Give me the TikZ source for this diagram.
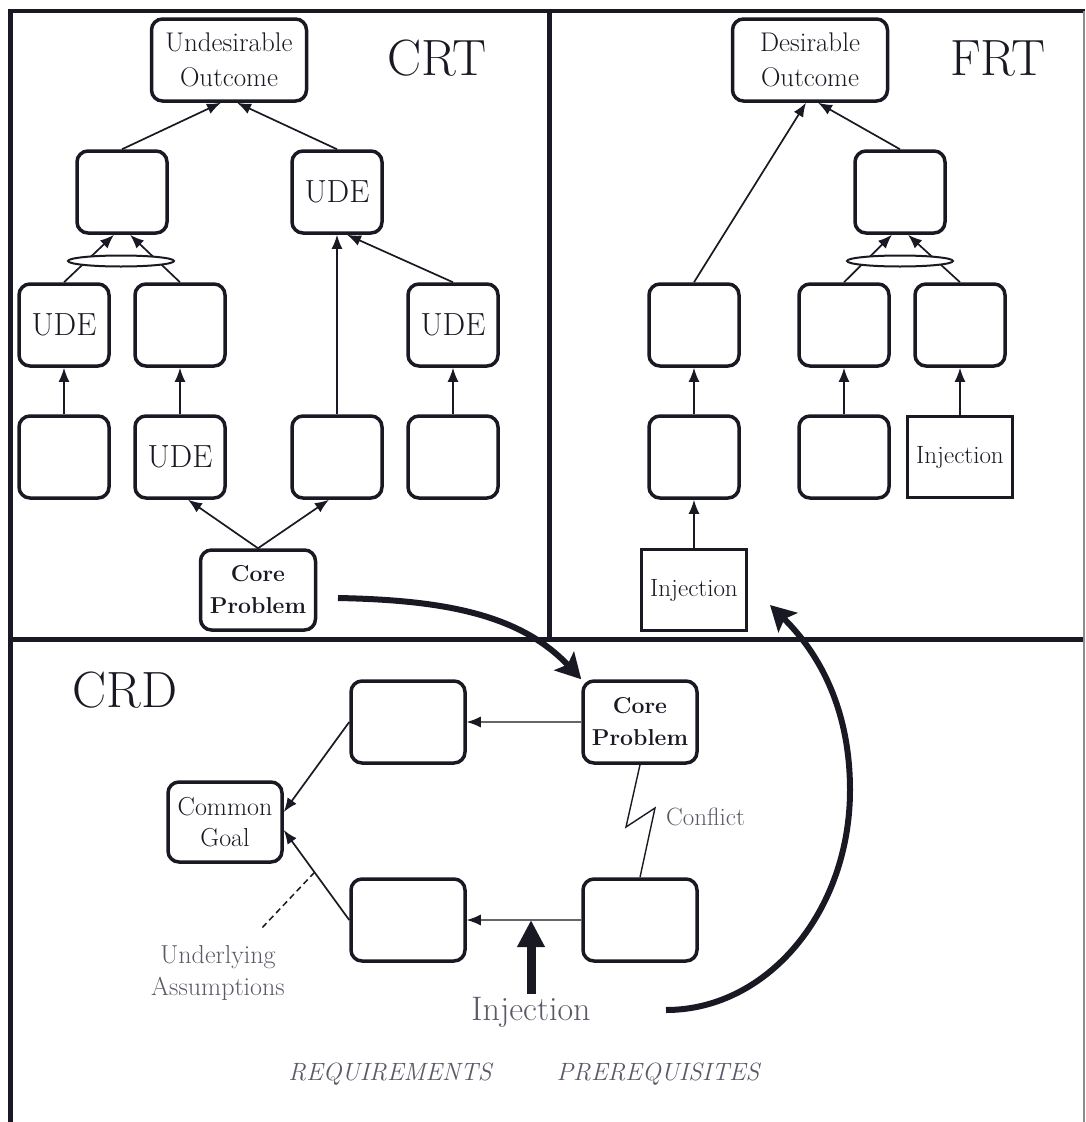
\documentclass[tikz,border=0pt]{standalone}
\usepackage{fontspec}
\usetikzlibrary{arrows.meta,shapes.geometric,calc}
\definecolor{ink}{RGB}{25,25,35}
\definecolor{lbl}{RGB}{90,90,104}
\newcommand\myfs[2]{\fontsize{#1}{#2}\selectfont}
\begin{document}
\begin{tikzpicture}[x=1pt,y=-1pt,
  box/.style={draw=ink, line width=3.5pt, rounded corners=11pt, minimum width=90pt, minimum height=82pt, inner sep=0pt, align=center, text=ink},
  sqbox/.style={draw=ink, line width=3.5pt, minimum width=105pt, minimum height=81pt, inner sep=0pt, align=center, text=ink, font=\myfs{25}{30}},
  ude/.style={font=\myfs{32}{36}},
  title/.style={font=\myfs{51}{55}, text=ink, inner sep=0pt},
  ell/.style={ellipse, draw=ink, line width=2pt, fill=white, minimum width=106pt, minimum height=11pt, inner sep=0pt},
  arr/.style={draw=ink, line width=1.7pt, -{Latex[length=14pt,width=11pt]}},
  arrg/.style={draw=black!60, line width=1.2pt, -{Latex[length=14pt,width=11pt,color=ink]}},
  bigarr/.style={draw=ink, line width=6pt, -{Stealth[length=25pt,width=27pt,inset=5pt]}},
  frame/.style={draw=ink, line width=4.5pt},
  note/.style={text=lbl, inner sep=0pt, align=center}
]
\useasboundingbox (0,0) rectangle (1085,1122);
% frame
\draw[frame] (10.5,1122) -- (10.5,11) -- (1085,11);
\draw[frame] (549.5,11) -- (549.5,639.5);
\draw[frame] (10.5,639.5) -- (1085,639.5);
\draw[draw=black!45, line width=1.2pt] (1084,11) -- (1084,1122);

% ---------------- CRT ----------------
\node[box, minimum width=155pt, font=\myfs{27}{35}] (uo) at (229,60) {Undesirable\\Outcome};
\node[title] (crt) at (437,58) {CRT};
\node[box] (c2a) at (122,192) {};
\node[box, ude] (c2b) at (337,192) {UDE};
\node[box, ude] (c3a) at (64,325) {UDE};
\node[box] (c3b) at (180,325) {};
\node[box, ude] (c3d) at (453,325) {UDE};
\node[box] (c4a) at (64,457) {};
\node[box, ude] (c4b) at (180,457) {UDE};
\node[box] (c4c) at (337,457) {};
\node[box] (c4d) at (453,457) {};
\node[box, minimum width=115pt, minimum height=80pt, font=\bfseries\myfs{23}{32}] (core1) at (258,590) {Core\\Problem};

\draw[arr] (c2a.north) -- ($(uo.south)+(-8,0)$);
\draw[arr] (c2b.north) -- ($(uo.south)+(8,0)$);
\draw[arr] (c3a.north) -- ($(c2a.south)+(-8,0)$);
\draw[arr] (c3b.north) -- ($(c2a.south)+(8,0)$);
\node[ell] (e1) at (121,261) {};
\draw[arr] (c4c.north) -- (c2b.south);
\draw[arr] (c3d.north) -- ($(c2b.south)+(10,0)$);
\draw[arr] (c4a.north) -- (c3a.south);
\draw[arr] (c4b.north) -- (c3b.south);
\draw[arr] (c4d.north) -- (c3d.south);
\draw[arr] (core1.north) -- ($(c4b.south)+(8,0)$);
\draw[arr] (core1.north) -- ($(c4c.south)+(-8,0)$);

% ---------------- FRT ----------------
\node[box, minimum width=155pt, font=\myfs{27}{35}] (do) at (810,60) {Desirable\\Outcome};
\node[title] (frt) at (998,58) {FRT};
\node[box] (f2) at (900,192) {};
\node[box] (f3a) at (694,325) {};
\node[box] (f3b) at (844,325) {};
\node[box] (f3c) at (960,325) {};
\node[box] (f4a) at (694,457) {};
\node[box] (f4b) at (844,457) {};
\node[sqbox] (f4c) at (960,457) {Injection};
\node[sqbox] (finj) at (694,590) {Injection};

\draw[arr] (f3a.north) -- ($(do.south)+(-4,0)$);
\draw[arr] (f2.north) -- ($(do.south)+(8,0)$);
\draw[arr] (f3b.north) -- ($(f2.south)+(-8,0)$);
\draw[arr] (f3c.north) -- ($(f2.south)+(8,0)$);
\node[ell] (e2) at (900,261) {};
\draw[arr] (f4a.north) -- (f3a.south);
\draw[arr] (f4b.north) -- (f3b.south);
\draw[arr] (f4c.north) -- (f3c.south);
\draw[arr] (finj.north) -- (f4a.south);

% ---------------- CRD ----------------
\node[title] (crd) at (125,690) {CRD};
\node[box, minimum width=114pt] (k1) at (408,722) {};
\node[box, minimum width=114pt, minimum height=80pt, font=\myfs{26}{31}] (cg) at (225,822) {Common\\Goal};
\node[box, minimum width=114pt] (k2) at (408,920) {};
\node[box, minimum width=114pt, font=\bfseries\myfs{23}{32}] (core2) at (640,722) {Core\\Problem};
\node[box, minimum width=114pt] (k3) at (640,920) {};

\draw[arrg] (core2.west) -- (k1.east);
\draw[arrg] (k3.west) -- (k2.east);
\draw[arr] (k1.west) -- ($(cg.east)+(0,-10)$);
\draw[arr] (k2.west) -- coordinate[pos=0.53] (ua) ($(cg.east)+(0,8)$);
\coordinate (uaend) at (260,930);
\draw[draw=ink, line width=1.5pt, dash pattern=on 6pt off 4pt] (ua) -- (uaend);
\node[note, font=\myfs{26}{32}] (under) at (218,973) {Underlying\\Assumptions};

\coordinate (zz1) at (626,827);
\coordinate (zz2) at (655,808);
\draw[draw=ink, line width=1.4pt, line join=miter] (core2.south) -- (zz1) -- (zz2) -- (k3.north);
\node[note, font=\myfs{25}{28}, anchor=base west] (conf) at (666,825) {Conflict};

\node[note, font=\myfs{34}{38}, anchor=base] (injtxt) at (531,1020) {Injection};
\coordinate (injtip) at (531,920);
\draw[draw=ink, line width=9pt, shorten <=3pt, -{Triangle[length=27pt,width=26pt]}] (injtxt.north) -- (injtip);

\node[note, font=\itshape\myfs{25}{28}, anchor=base] (req) at (390,1080) {REQUIREMENTS};
\node[note, font=\itshape\myfs{25}{28}, anchor=base] (preq) at (658,1080) {PREREQUISITES};

% thick arcs
\coordinate (a1s) at (338,598);
\draw[bigarr] (a1s) .. controls (440,600) and (519,613) .. (core2.north west);
\coordinate (a2s) at (666,1010);
\coordinate (a2m) at (850,790);
\coordinate (a2e) at (770,605);
\draw[draw=ink, line width=6pt] (a2s) .. controls (768,1010) and (850,911) .. (a2m);
\draw[bigarr] (a2m) .. controls (850,710) and (820,654) .. (a2e);
\end{tikzpicture}
\end{document}
